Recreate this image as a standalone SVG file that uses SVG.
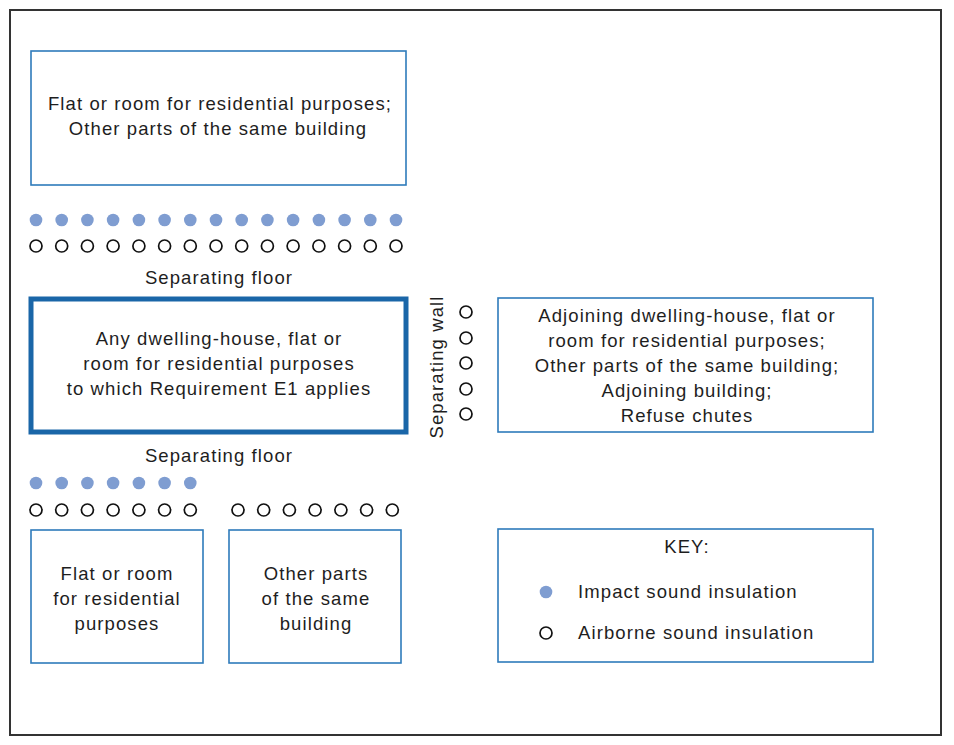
<svg xmlns="http://www.w3.org/2000/svg" width="954" height="745" viewBox="0 0 954 745">
<defs>
<style>
text{font-family:"Liberation Sans",Arial,sans-serif;font-size:18.5px;letter-spacing:1.1px;fill:#1e1e1e;text-anchor:middle;dominant-baseline:central}
.box{fill:#fff;stroke:#2e7bbb;stroke-width:1.6}
.main{fill:#fff;stroke:#1a66a8;stroke-width:5}
.imp{fill:#7f9dd1}
.air{fill:none;stroke:#111;stroke-width:1.7}
.l{text-anchor:start}
</style>
<circle id="d" r="6.3" class="imp"/>
<circle id="o" r="6" class="air"/>
</defs>
<rect x="0" y="0" width="954" height="745" fill="#fff"/>
<rect x="10" y="10" width="931" height="725" fill="none" stroke="#333" stroke-width="2"/>

<g id="top-box">
<rect class="box" x="31" y="51" width="375" height="134"/>
<text x="220" y="103">Flat or room for residential purposes;</text>
<text x="218" y="128">Other parts of the same building</text>
</g>

<g id="top-insulation">
<use href="#d" x="36" y="220"/><use href="#d" x="61.7" y="220"/><use href="#d" x="87.4" y="220"/><use href="#d" x="113.1" y="220"/><use href="#d" x="138.9" y="220"/><use href="#d" x="164.6" y="220"/><use href="#d" x="190.3" y="220"/><use href="#d" x="216" y="220"/><use href="#d" x="241.7" y="220"/><use href="#d" x="267.4" y="220"/><use href="#d" x="293.1" y="220"/><use href="#d" x="318.9" y="220"/><use href="#d" x="344.6" y="220"/><use href="#d" x="370.3" y="220"/><use href="#d" x="396" y="220"/>
<use href="#o" x="36" y="246"/><use href="#o" x="61.7" y="246"/><use href="#o" x="87.4" y="246"/><use href="#o" x="113.1" y="246"/><use href="#o" x="138.9" y="246"/><use href="#o" x="164.6" y="246"/><use href="#o" x="190.3" y="246"/><use href="#o" x="216" y="246"/><use href="#o" x="241.7" y="246"/><use href="#o" x="267.4" y="246"/><use href="#o" x="293.1" y="246"/><use href="#o" x="318.9" y="246"/><use href="#o" x="344.6" y="246"/><use href="#o" x="370.3" y="246"/><use href="#o" x="396" y="246"/>
<text x="219" y="277">Separating floor</text>
</g>

<g id="main-box">
<rect class="main" x="31" y="299" width="375" height="133"/>
<text x="219" y="338">Any dwelling-house, flat or</text>
<text x="219" y="363">room for residential purposes</text>
<text x="219" y="388">to which Requirement E1 applies</text>
</g>

<g id="wall">
<text x="436" y="367" transform="rotate(-90 436 367)">Separating wall</text>
<use href="#o" x="466" y="312"/><use href="#o" x="466" y="338"/><use href="#o" x="466" y="363"/><use href="#o" x="466" y="389"/><use href="#o" x="466" y="414"/>
</g>

<g id="right-box">
<rect class="box" x="498" y="298" width="375" height="134"/>
<text x="687" y="315">Adjoining dwelling-house, flat or</text>
<text x="687" y="340">room for residential purposes;</text>
<text x="687" y="365">Other parts of the same building;</text>
<text x="687" y="390">Adjoining building;</text>
<text x="687" y="415">Refuse chutes</text>
</g>

<g id="bottom-insulation">
<text x="219" y="455">Separating floor</text>
<use href="#d" x="36" y="483"/><use href="#d" x="61.7" y="483"/><use href="#d" x="87.4" y="483"/><use href="#d" x="113.1" y="483"/><use href="#d" x="138.9" y="483"/><use href="#d" x="164.6" y="483"/><use href="#d" x="190.3" y="483"/>
<use href="#o" x="36" y="510"/><use href="#o" x="61.7" y="510"/><use href="#o" x="87.4" y="510"/><use href="#o" x="113.1" y="510"/><use href="#o" x="138.9" y="510"/><use href="#o" x="164.6" y="510"/><use href="#o" x="190.3" y="510"/>
<use href="#o" x="238" y="510"/><use href="#o" x="263.7" y="510"/><use href="#o" x="289.4" y="510"/><use href="#o" x="315.1" y="510"/><use href="#o" x="340.9" y="510"/><use href="#o" x="366.6" y="510"/><use href="#o" x="392.3" y="510"/>
</g>

<g id="bottom-left-box">
<rect class="box" x="31" y="530" width="172" height="133"/>
<text x="117" y="573">Flat or room</text>
<text x="117" y="598">for residential</text>
<text x="117" y="623">purposes</text>
</g>

<g id="bottom-mid-box">
<rect class="box" x="229" y="530" width="172" height="133"/>
<text x="316" y="573">Other parts</text>
<text x="316" y="598">of the same</text>
<text x="316" y="623">building</text>
</g>

<g id="key">
<rect class="box" x="498" y="529" width="375" height="133"/>
<text x="687" y="546">KEY:</text>
<use href="#d" x="546" y="592"/>
<text class="l" x="578" y="591">Impact sound insulation</text>
<use href="#o" x="546" y="633"/>
<text class="l" x="578" y="632">Airborne sound insulation</text>
</g>
</svg>
